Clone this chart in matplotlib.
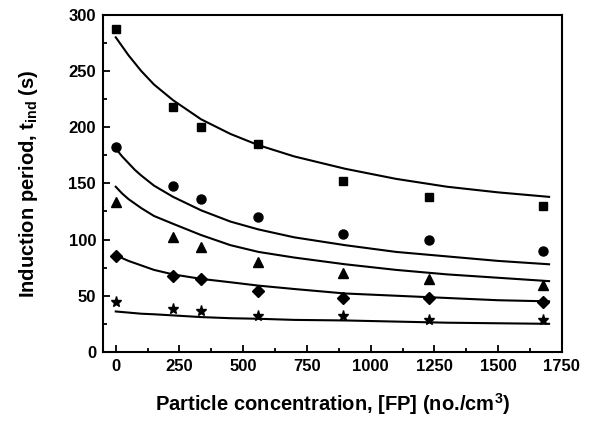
import matplotlib
matplotlib.use("Agg")
import matplotlib.pyplot as plt
from matplotlib.ticker import MultipleLocator

plt.rcParams['font.family'] = ['Liberation Sans', 'DejaVu Sans']
plt.rcParams['font.weight'] = 'bold'
plt.rcParams['mathtext.fontset'] = 'custom'
plt.rcParams['mathtext.bf'] = 'Liberation Sans:bold'
plt.rcParams['mathtext.rm'] = 'Liberation Sans:bold'

# measured points
conc = [0, 223, 334, 558, 893, 1228, 1675]
t_sq = [287, 218, 200, 185, 152, 138, 130]
t_ci = [182, 148, 136, 120, 105, 100, 90]
t_tr = [133, 102, 93, 80, 70, 65, 60]
t_di = [85, 68, 65, 54, 48, 48, 44]
t_st = [44, 38, 36, 32, 32, 28, 28]

# fitted curves
fit_x = [0, 25, 50, 75, 100, 150, 225, 335, 450, 560, 700, 900, 1100, 1300, 1500, 1700]
fit_sq = [280, 272, 264, 257, 250, 238, 224, 207, 194, 184, 174, 163, 154, 147, 142, 138]
fit_ci = [181, 174, 168, 162, 157, 148, 138, 126, 116, 109, 102, 95, 89, 85, 81, 78]
fit_tr = [147, 141, 136, 132, 128, 121, 114, 104, 95, 89, 84, 78, 73, 69, 66, 63]
fit_di = [86, 83.5, 81, 79, 77, 73, 69, 65, 62, 59, 56, 52, 50, 48, 46, 45]
fit_st = [36, 35.5, 35, 34.5, 34, 33.5, 32.5, 31, 30, 29.5, 28.5, 28, 27, 26, 25.5, 25]

fig = plt.figure(figsize=(5.92, 4.24), dpi=100)
ax = fig.add_axes([0.174, 0.170, 0.775, 0.795])

for ys, m, ms in [(t_sq, 's', 6), (t_ci, 'o', 6.5), (t_tr, '^', 7),
                  (t_di, 'D', 6), (t_st, '*', 8)]:
    ax.plot(conc, ys, linestyle='none', marker=m, markersize=ms, color='black')

for ys in [fit_sq, fit_ci, fit_tr, fit_di, fit_st]:
    ax.plot(fit_x, ys, color='black', lw=1.5)

ax.set_xlim(-50, 1750)
ax.set_ylim(0, 300)
ax.xaxis.set_major_locator(MultipleLocator(250))
ax.xaxis.set_minor_locator(MultipleLocator(125))
ax.yaxis.set_major_locator(MultipleLocator(50))
ax.yaxis.set_minor_locator(MultipleLocator(25))
ax.tick_params(which='both', direction='in', top=False, right=False,
               width=1.3, labelsize=12)
ax.tick_params(which='major', length=5)
ax.tick_params(axis='x', which='major', pad=5)
ax.tick_params(axis='y', which='major', pad=5)
ax.tick_params(which='minor', length=3)
for s in ax.spines.values():
    s.set_linewidth(1.5)

ax.set_xlabel('Particle concentration, [FP] (no./cm$^\\mathbf{3}$)',
              fontsize=14.5, fontweight='bold')
ax.set_ylabel('Induction period, t$_\\mathbf{ind}$ (s)',
              fontsize=14.5, fontweight='bold')
ax.xaxis.set_label_coords(0.5, -0.115)
ax.yaxis.set_label_coords(-0.137, 0.5)

fig.savefig('out.png', dpi=100)
